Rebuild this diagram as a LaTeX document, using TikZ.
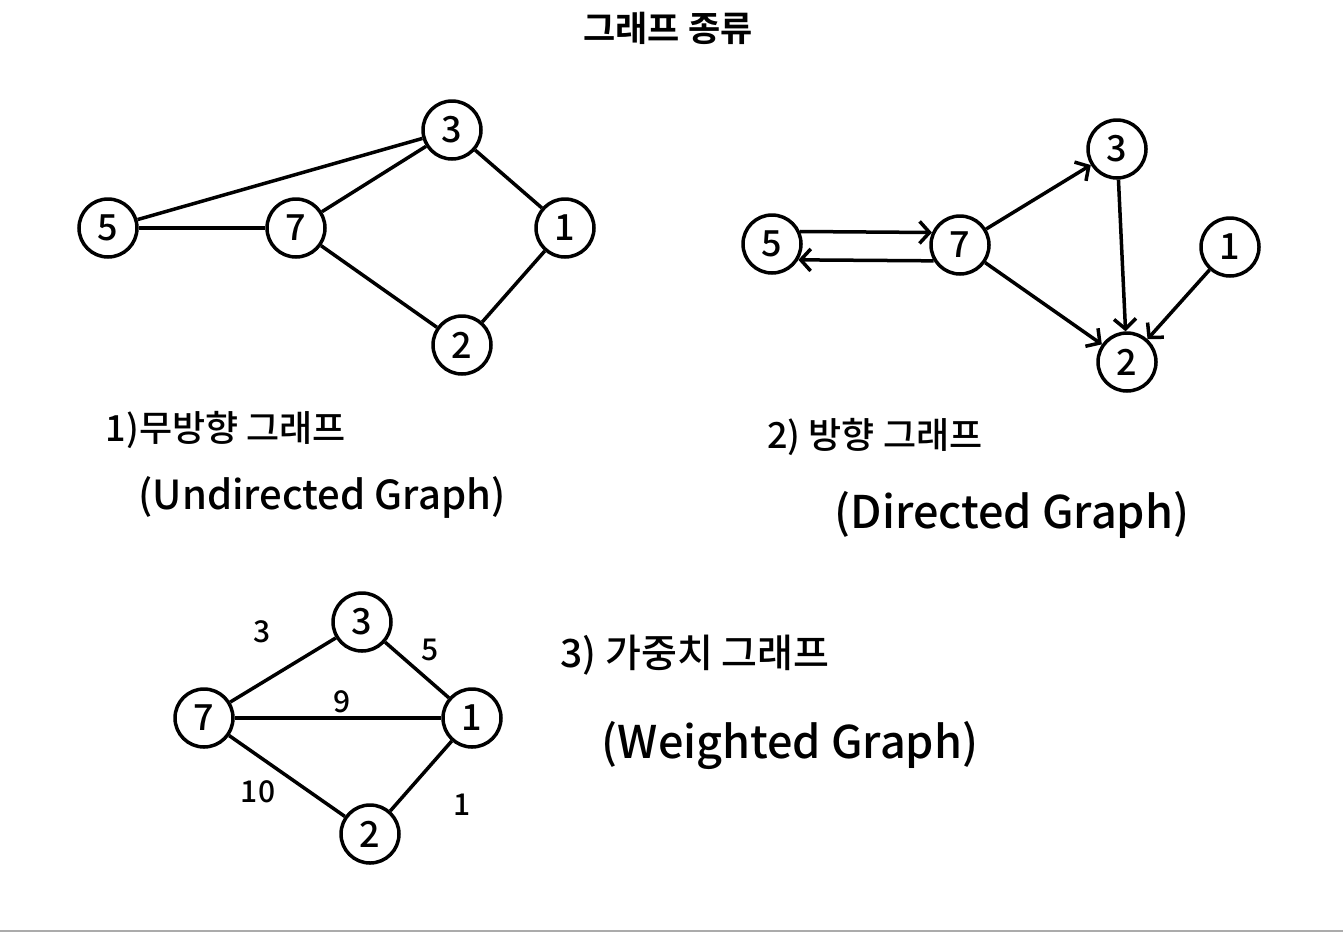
\documentclass[tikz,border=0pt]{standalone}
\usepackage{fontspec}
\setmainfont{Noto Sans CJK KR}
\newfontfamily\krbold{Noto Sans CJK KR Bold}
\newfontfamily\krmed{Noto Sans CJK KR Medium}
\usetikzlibrary{arrows.meta}
\tikzset{
  vtx/.style={circle,draw,line width=3.5pt,minimum size=58pt,inner sep=0pt,font=\krmed\fontsize{36}{36}\selectfont},
  edge/.style={line width=3.5pt},
  darr/.style={line width=3.5pt,-{Straight Barb[length=10pt,width=22pt,line width=3.5pt]}},
  wlab/.style={font=\krmed\fontsize{30}{30}\selectfont},
  captxt/.style={anchor=center},
}
\begin{document}
\begin{tikzpicture}[x=1pt,y=-1pt]
\useasboundingbox (0,0) rectangle (1343,932);
\draw[line width=2pt,color=black!33] (0,931) -- (1343,931);
\node[font=\krbold\fontsize{35}{35}\selectfont] (title) at (668,28) {그래프 종류};

% Graph 1: undirected
\node[vtx] (a3) at (452,130) {3};
\node[vtx] (a5) at (108,228) {5};
\node[vtx] (a7) at (296,228) {7};
\node[vtx] (a1) at (565,228) {1};
\node[vtx] (a2) at (462,345) {2};
\draw[edge] (a5) -- (a3);
\draw[edge] (a5) -- (a7);
\draw[edge] (a7) -- (a3);
\draw[edge] (a3) -- (a1);
\draw[edge] (a7) -- (a2);
\draw[edge] (a2) -- (a1);
\node[captxt,font=\krmed\fontsize{36}{40}\selectfont] (c1a) at (226,430) {1)무방향 그래프};
\node[captxt,font=\krmed\fontsize{40}{44}\selectfont] (c1b) at (322,497) {(Undirected Graph)};

% Graph 2: directed
\node[vtx] (b5) at (772,244) {5};
\node[vtx] (b7) at (960,245) {7};
\node[vtx] (b3) at (1117,149) {3};
\node[vtx] (b1) at (1230,247) {1};
\node[vtx] (b2) at (1127,362) {2};
\draw[darr] (b5.24) -- (b7.156);
\draw[darr] (b7.-149) -- (b5.-31);
\draw[darr] (b7) -- (b3);
\draw[darr] (b7) -- (b2);
\draw[darr] (b3) -- (b2);
\draw[darr] (b1) -- (b2);
\node[captxt,font=\krmed\fontsize{36}{40}\selectfont] (c2a) at (875,437) {2) 방향 그래프};
\node[captxt,font=\krmed\fontsize{45}{48}\selectfont] (c2b) at (1012,515) {(Directed Graph)};

% Graph 3: weighted
\node[vtx] (w3) at (362,622) {3};
\node[vtx] (w7) at (204,718) {7};
\node[vtx] (w1) at (472,718) {1};
\node[vtx] (w2) at (370,834) {2};
\draw[edge] (w7) -- (w3);
\draw[edge] (w3) -- (w1);
\draw[edge] (w7) -- (w1);
\draw[edge] (w7) -- (w2);
\draw[edge] (w2) -- (w1);
\node[wlab] (l3) at (262,632) {3};
\node[wlab] (l5) at (430,650) {5};
\node[wlab] (l9) at (342,702) {9};
\node[wlab] (l10) at (258,792) {10};
\node[wlab] (l1) at (462,805) {1};
\node[captxt,font=\krmed\fontsize{39}{42}\selectfont] (c3a) at (695,655) {3) 가중치 그래프};
\node[captxt,font=\krmed\fontsize{45}{48}\selectfont] (c3b) at (790,745) {(Weighted Graph)};
\end{tikzpicture}
\end{document}
